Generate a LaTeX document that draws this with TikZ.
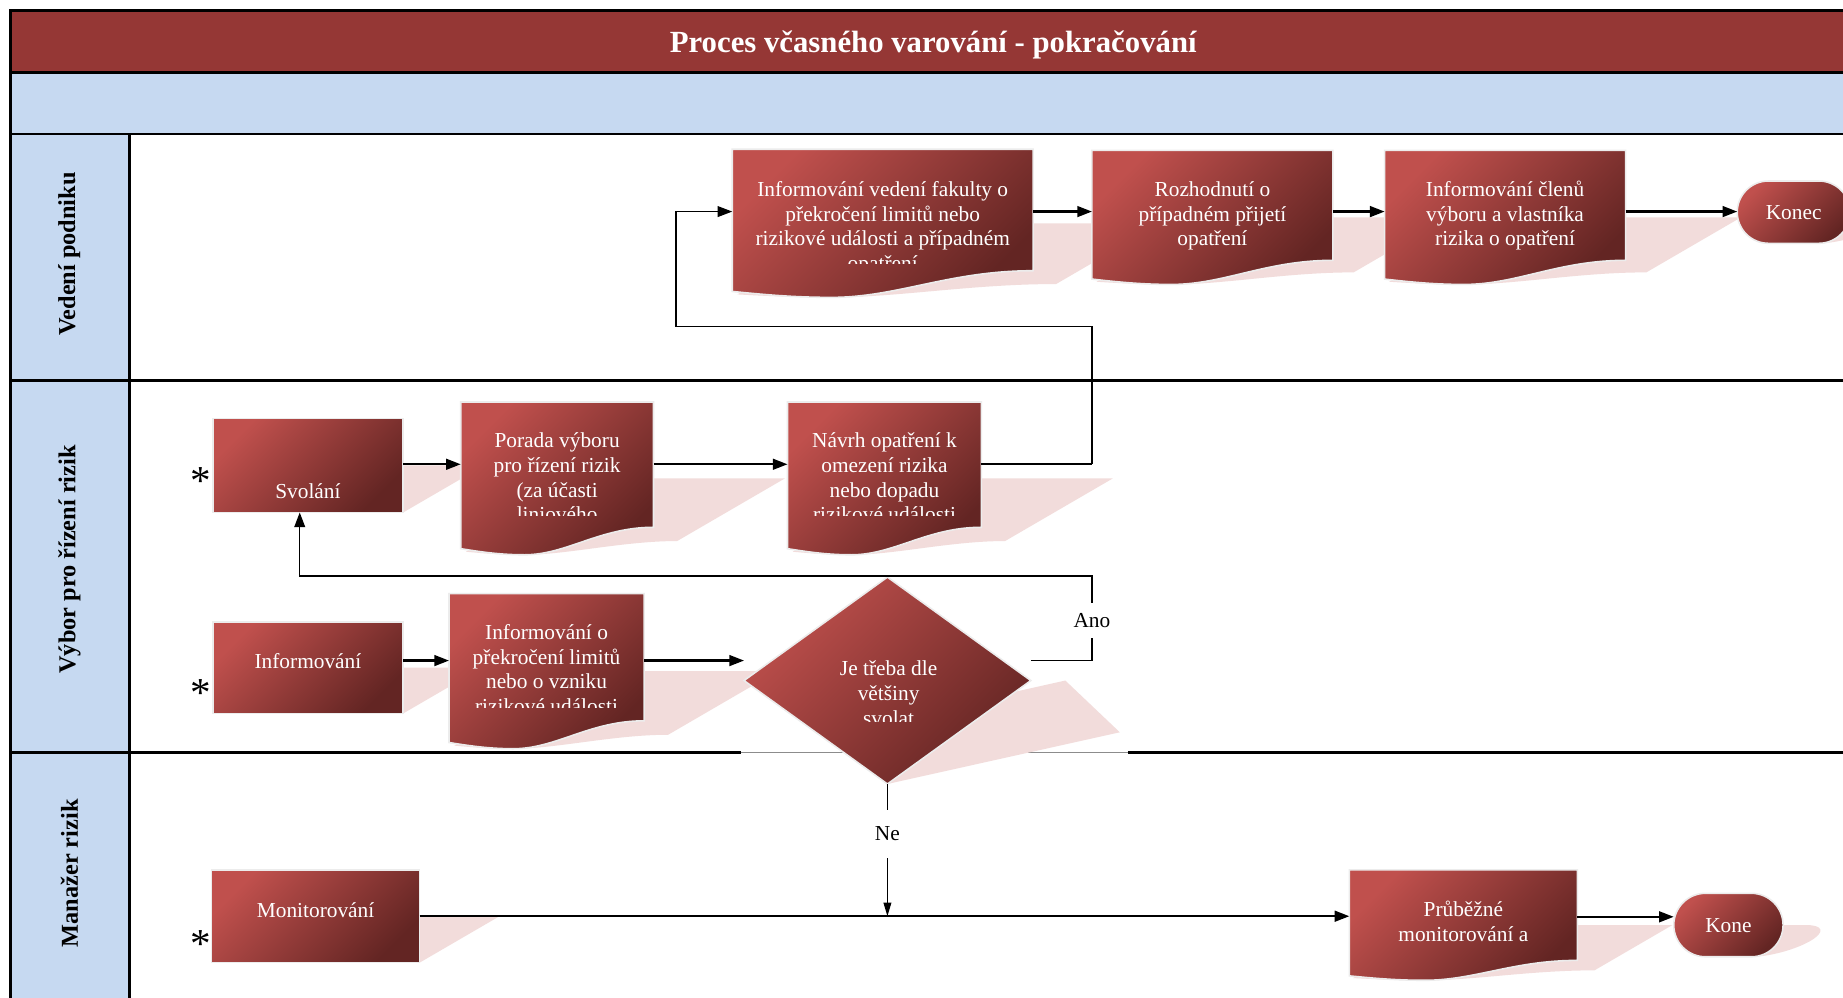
\documentclass[tikz,border=0pt]{standalone}
\usepackage{fontspec}
\setmainfont{Liberation Serif}
\usetikzlibrary{arrows.meta}
\definecolor{titlered}{HTML}{953735}
\definecolor{laneblue}{HTML}{C6D9F1}
\definecolor{shapelight}{HTML}{C0504D}
\definecolor{shapedark}{HTML}{632523}
\definecolor{shadowpink}{HTML}{F2DCDB}
\definecolor{glow}{HTML}{ECECEC}
% shape geometry helpers (ovw px, y down); v measured upward from shape bottom
\newcommand\shQ[2]{({\shL+(#1)+\shK*(#2)},{\shB-\shV*(#2)})}
\newcommand\docpath{\shQ{0}{0.04*\shH} -- \shQ{0}{\shH} -- \shQ{\shW}{\shH} -- \shQ{\shW}{0.18*\shH} .. controls \shQ{0.72*\shW}{0.18*\shH} and \shQ{0.55*\shW}{0} .. \shQ{0.33*\shW}{0} .. controls \shQ{0.2*\shW}{0} and \shQ{0.1*\shW}{0.02*\shH} .. \shQ{0}{0.04*\shH} -- cycle}
\newcommand\rectpath{\shQ{0}{0} -- \shQ{0}{\shH} -- \shQ{\shW}{\shH} -- \shQ{\shW}{0} -- cycle}
\newcommand\diampath{\shQ{0}{0.5*\shH} -- \shQ{0.5*\shW}{\shH} -- \shQ{\shW}{0.5*\shH} -- \shQ{0.5*\shW}{0} -- cycle}
\newcommand\termpath{\shQ{0.5*\shH}{0} -- \shQ{\shW-0.5*\shH}{0} .. controls \shQ{\shW-0.2239*\shH}{0} and \shQ{\shW}{0.2239*\shH} .. \shQ{\shW}{0.5*\shH} .. controls \shQ{\shW}{0.7761*\shH} and \shQ{\shW-0.2239*\shH}{\shH} .. \shQ{\shW-0.5*\shH}{\shH} -- \shQ{0.5*\shH}{\shH} .. controls \shQ{0.2239*\shH}{\shH} and \shQ{0}{0.7761*\shH} .. \shQ{0}{0.5*\shH} .. controls \shQ{0}{0.2239*\shH} and \shQ{0.2239*\shH}{0} .. \shQ{0.5*\shH}{0} -- cycle}
\newcommand\shadowof[5]{\def\shL{#1}\def\shB{#2}\def\shW{#3}\def\shH{#4}\def\shK{0.86}\def\shV{0.5}\fill[shadowpink] #5;}
\newcommand\bodyof[5]{\def\shL{#1}\def\shB{#2}\def\shW{#3}\def\shH{#4}\def\shK{0}\def\shV{1}\path[shapebody] #5;}
\newcommand\anchorbox[5]{\node[anchorbox, minimum width={#4*0.6pt}, minimum height={#5*0.6pt}] (#1) at (#2,#3) {};}
\begin{document}
\begin{tikzpicture}[x=0.6pt, y=-0.6pt,
  framel/.style={line width=1.4pt, black},
  shapebody/.style={top color=shapelight, bottom color=shapedark, shading angle=45, draw=glow, line width=0.8pt},
  anchorbox/.style={inner sep=0pt, outer sep=0pt},
  boxtext/.style={text=white, align=center, inner sep=0pt, font=\fontsize{10.9}{12.6}\selectfont},
  lanelabel/.style={rotate=90, inner sep=0pt, font=\fontsize{12.4}{14}\selectfont\bfseries},
  starmark/.style={font=\fontsize{21}{21}\selectfont, inner sep=0pt, anchor=base},
  lbl/.style={fill=white, inner xsep=1pt, inner ysep=0pt, font=\fontsize{10.9}{12.6}\selectfont},
  thickline/.style={line width=1.1pt},
  conn/.style={line width=1.1pt, -{Triangle[length=7.5pt,width=5.5pt]}},
  connthin/.style={line width=0.75pt, -{Triangle[length=7.5pt,width=5.5pt]}},
  connne/.style={line width=0.6pt, -{Triangle[length=7pt,width=4pt]}}]
\useasboundingbox (0,0) rectangle (1568,849);
\clip (0,0) rectangle (1568,849);
% bands
\fill[white] (0,0) rectangle (1568,849);
\fill[titlered] (9,9) rectangle (1580,62);
\fill[laneblue] (9,62) rectangle (1580,114);
\fill[laneblue] (9,114) rectangle (110,870);
\draw[framel] (1580,9) -- (9,9) -- (9,870);
\draw[framel] (9,62) -- (1580,62);
\draw[framel] (9,114) -- (1580,114);
\draw[framel] (110,114) -- (110,870);
\draw[framel] (9,324) -- (1580,324);
\draw[framel] (9,640) -- (630,640);
\draw[line width=0.6pt, black!45] (630,640) -- (960,640);
\draw[framel] (960,640) -- (1580,640);
\node[font=\fontsize{15.7}{18}\selectfont\bfseries, text=white, inner sep=0pt] (title) at (794,38) {Proces včasného varování - pokračování};
\node[lanelabel] (lane1) at (59,216) {Vedení podniku};
\node[lanelabel] (lane2) at (59,476) {Výbor pro řízení rizik};
\node[lanelabel] (lane3) at (59,743) {Manažer rizik};
% shadows
\shadowof{623}{253}{256}{126}{\docpath}
\shadowof{929}{242}{205}{114}{\docpath}
\shadowof{1178}{242}{205}{114}{\docpath}
\shadowof{1478}{207}{96}{53}{\termpath}
\shadowof{181}{436}{162}{80}{\rectpath}
\shadowof{392}{472}{164}{130}{\docpath}
\shadowof{670}{472}{165}{130}{\docpath}
\shadowof{181}{607}{162}{78}{\rectpath}
\shadowof{382}{637}{166}{132}{\docpath}
\shadowof{633}{667}{244}{176}{\diampath}
\shadowof{180}{819}{177}{79}{\rectpath}
\shadowof{1148}{834}{194}{94}{\docpath}
\shadowof{1424}{814}{93}{54}{\termpath}
% bodies
\bodyof{623}{253}{256}{126}{\docpath}
\bodyof{929}{242}{205}{114}{\docpath}
\bodyof{1178}{242}{205}{114}{\docpath}
\bodyof{1478}{207}{96}{53}{\termpath}
\bodyof{181}{436}{162}{80}{\rectpath}
\bodyof{392}{472}{164}{130}{\docpath}
\bodyof{670}{472}{165}{130}{\docpath}
\bodyof{181}{607}{162}{78}{\rectpath}
\bodyof{382}{637}{166}{132}{\docpath}
\bodyof{633}{667}{244}{176}{\diampath}
\bodyof{180}{819}{177}{79}{\rectpath}
\bodyof{1148}{834}{194}{94}{\docpath}
\bodyof{1424}{814}{93}{54}{\termpath}
% named anchor boxes
\anchorbox{d1}{751}{180}{256}{106}
\anchorbox{d2}{1031.5}{180}{205}{104}
\anchorbox{d3}{1280.5}{180}{205}{104}
\anchorbox{konec}{1526}{180.5}{96}{53}
\anchorbox{svolani}{262}{396}{162}{80}
\anchorbox{porada}{474}{395}{164}{106}
\anchorbox{navrh}{752.5}{395}{165}{106}
\anchorbox{inform}{262}{568}{162}{78}
\anchorbox{infoo}{465}{562}{166}{114}
\anchorbox{diamond}{755}{579}{244}{176}
\anchorbox{monit}{268.5}{779.5}{177}{79}
\anchorbox{prub}{1245}{780}{194}{80}
\anchorbox{kone}{1470.5}{787}{93}{54}
\coordinate (r0) at (929,395);
\coordinate (r1) at (929,278);
\coordinate (r2) at (575,278);
\coordinate (a0) at (929,562);
\coordinate (a1) at (929,490);
\coordinate (a2) at (255,490);
% texts
\begin{scope}
\clip (623,127) rectangle (879,224);
\node[boxtext, anchor=north] (d1t) at (751,152) {\strut Informování vedení fakulty o\\překročení limitů nebo\\rizikové události a případném\\opatření};
\end{scope}
\node[boxtext, anchor=north] (d2t) at (1031.5,152) {\strut Rozhodnutí o\\případném přijetí\\opatření};
\node[boxtext, anchor=north] (d3t) at (1280.5,152) {\strut Informování členů\\výboru a vlastníka\\rizika o opatření};
\node[boxtext, anchor=base] (konect) at (1526,187) {Konec};
\node[boxtext, anchor=base] (svolanit) at (262,424) {Svolání};
\begin{scope}
\clip (392,342) rectangle (556,439);
\node[boxtext, anchor=north] (poradat) at (474,366) {\strut Porada výboru\\pro řízení rizik\\(za účasti\\liniového};
\end{scope}
\begin{scope}
\clip (670,342) rectangle (835,439);
\node[boxtext, anchor=north] (navrht) at (752.5,366) {\strut Návrh opatření k\\omezení rizika\\nebo dopadu\\rizikové události};
\end{scope}
\node[boxtext, anchor=base] (informt) at (262,569) {Informování};
\begin{scope}
\clip (382,505) rectangle (548,602);
\node[boxtext, anchor=north] (infoot) at (465,529) {\strut Informování o\\překročení limitů\\nebo o vzniku\\rizikové události};
\end{scope}
\begin{scope}
\clip (633,491) rectangle (877,614);
\node[boxtext, anchor=north] (diamt) at (756,560) {\strut Je třeba dle\\většiny\\svolat};
\end{scope}
\node[boxtext, anchor=base] (monitt) at (268.5,781) {Monitorování};
\node[boxtext, anchor=north] (prubt) at (1245,765) {\strut Průběžné\\monitorování a};
\node[boxtext, anchor=base] (konet) at (1470.5,793) {Kone};
\node[starmark] (star1) at (171,421) {*};
\node[starmark] (star2) at (171,601) {*};
\node[starmark] (star3) at (171,815) {*};
% connectors
\draw[conn] (d1.east) -- (d1.east -| d2.west);
\draw[conn] (d2.east) -- (d2.east -| d3.west);
\draw[conn] (d3.east) -- (d3.east -| konec.west);
\draw[conn] (svolani.east |- porada.west) -- (porada.west);
\draw[conn] (porada.east) -- (porada.east -| navrh.west);
\draw[thickline] (navrh.east) -- (r0);
\draw[connthin] (r0) -- (r1) -- (r2) |- (d1.west);
\draw[conn] (infoo.west -| inform.east) -- (infoo.west);
\draw[conn] (infoo.east) -- (infoo.east -| diamond.west);
\draw[connthin] (diamond.east |- infoo.east) -- (a0) -- node[lbl, minimum height=18pt, yshift=-1pt] (ano) {Ano} (a1) -- (a2) -- (a2 |- svolani.south);
\draw[connne] (diamond.south) -- (diamond.south |- monit.east) node[lbl, pos=0.376, minimum height=24.6pt] (ne) {Ne};
\draw[conn] (monit.east) -- (monit.east -| prub.west);
\draw[conn] (prub.east) -- (prub.east -| kone.west);
\end{tikzpicture}
\end{document}
